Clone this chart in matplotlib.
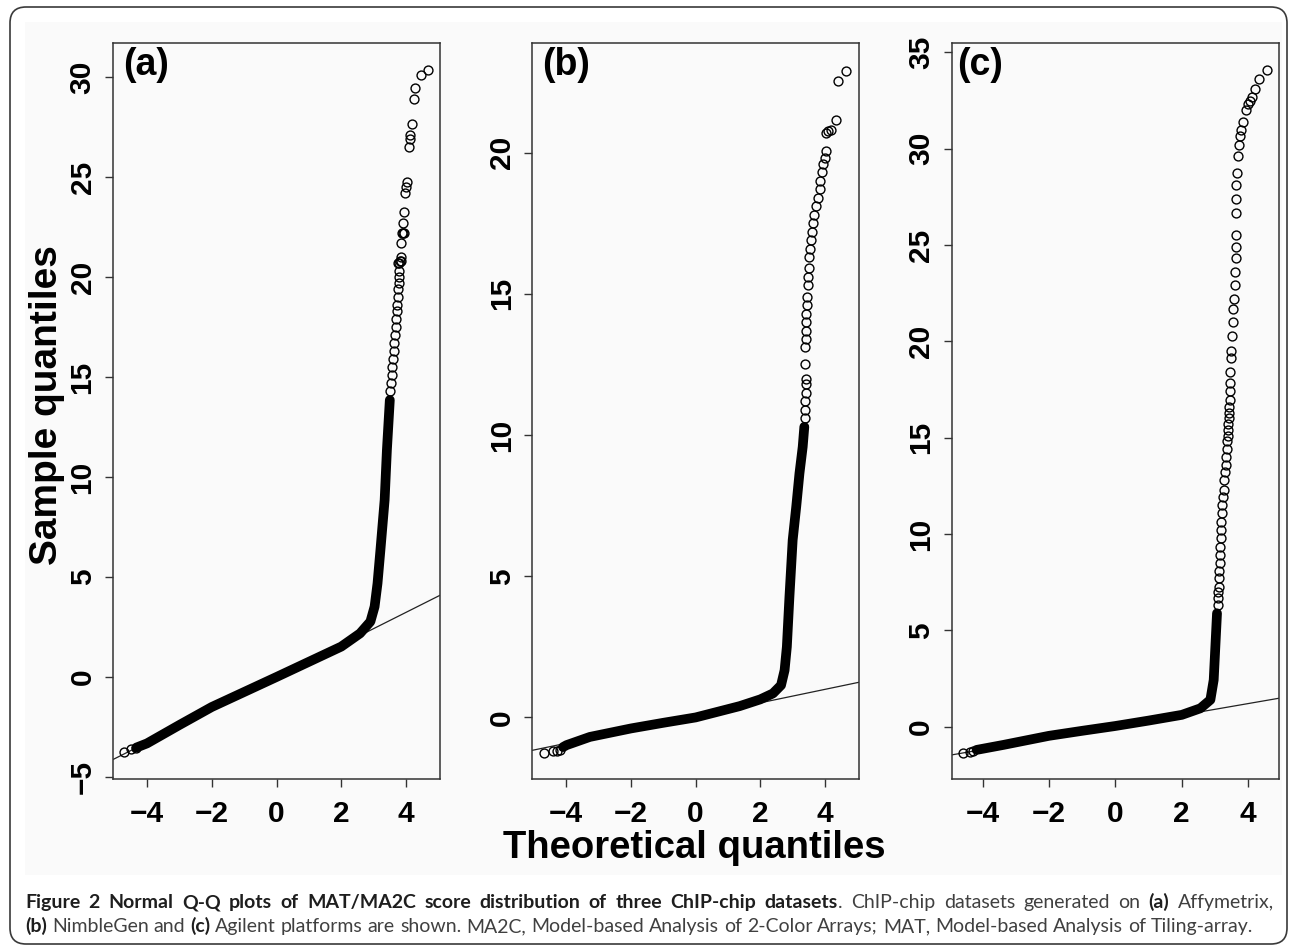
import numpy as np
import matplotlib
matplotlib.use('Agg')
import matplotlib.pyplot as plt
from matplotlib.patches import FancyBboxPatch, Rectangle
from matplotlib.transforms import IdentityTransform

W, H = 1290, 947

# ---- data (theoretical quantile, sample quantile) ----
# (a) Affymetrix
a_low_x = [-4.71, -4.48, -4.33]
a_low_y = [-3.73, -3.62, -3.53]
a_body_x = [-4.33, -4.0, -3.0, -2.0, -1.0, 0.0, 1.0, 2.0, 2.58, 2.9, 3.03, 3.12, 3.21, 3.34, 3.41, 3.5]
a_body_y = [-3.53, -3.32, -2.4, -1.5, -0.75, 0.0, 0.76, 1.52, 2.18, 2.77, 3.52, 4.68, 6.35, 8.85, 11.35, 13.85]
a_tail_x = [3.52, 3.54, 3.56, 3.58, 3.6, 3.62, 3.64, 3.66, 3.68, 3.70, 3.71, 3.72, 3.74, 3.76, 3.77,
            3.78, 3.79, 3.75, 3.78, 3.81, 3.84, 3.86, 3.85, 3.88, 3.91, 3.94, 3.92, 3.95, 3.98, 4.0,
            4.02, 4.09, 4.11, 4.13, 4.19, 4.26, 4.29, 4.47, 4.67]
a_tail_y = [14.3, 14.7, 15.1, 15.5, 15.9, 16.3, 16.7, 17.1, 17.5, 17.9, 18.3, 18.6, 19.0, 19.4, 19.7,
            20.0, 20.3, 20.7, 20.7, 20.8, 20.8, 21.0, 21.7, 22.2, 22.2, 22.2, 22.7, 23.25, 24.2, 24.5,
            24.75, 26.5, 26.9, 27.1, 27.67, 28.9, 29.47, 30.08, 30.37]
a_line = (-0.02, 0.813)  # intercept, slope of the reference line

# (b) NimbleGen
b_low_x = [-4.69, -4.4, -4.3, -4.2]
b_low_y = [-1.25, -1.2, -1.2, -1.15]
b_body_x = [-4.1, -3.99, -3.27, -2.0, -1.0, 0.0, 1.36, 2.0, 2.39, 2.64, 2.75, 2.82, 2.9, 3.0, 3.11, 3.21, 3.31, 3.36]
b_body_y = [-1.05, -0.98, -0.69, -0.39, -0.19, 0.0, 0.40, 0.64, 0.85, 1.14, 1.67, 2.5, 4.27, 6.28, 7.46, 8.64, 9.58, 10.29]
b_tail_x = [3.38, 3.39, 3.39, 3.40, 3.40, 3.40, 3.39, 3.39, 3.40, 3.40, 3.41, 3.42, 3.44, 3.45, 3.46,
            3.48, 3.50, 3.52, 3.54, 3.57, 3.60, 3.63, 3.67, 3.73, 3.78, 3.83, 3.86, 3.90, 3.95, 3.99,
            4.02, 4.04, 4.08, 4.18, 4.33, 4.41, 4.66]
b_tail_y = [10.6, 10.9, 11.2, 11.5, 11.8, 12.0, 12.5, 13.1, 13.4, 13.7, 14.0, 14.3, 14.6, 14.9, 15.3,
            15.6, 15.9, 16.3, 16.6, 16.9, 17.2, 17.5, 17.8, 18.1, 18.4, 18.7, 19.0, 19.3, 19.6, 19.8,
            20.07, 20.7, 20.75, 20.8, 21.16, 22.55, 22.9]
b_line = (0.04, 0.2386)

# (c) Agilent
c_low_x = [-4.58, -4.38, -4.28]
c_low_y = [-1.35, -1.3, -1.27]
c_body_x = [-4.18, -3.37, -2.0, -1.0, 0.0, 1.0, 2.01, 2.57, 2.87, 2.97, 3.02, 3.07]
c_body_y = [-1.21, -0.95, -0.48, -0.22, 0.03, 0.31, 0.61, 0.95, 1.39, 2.42, 4.15, 5.88]
c_tail_x = [3.09, 3.10, 3.11, 3.12, 3.13, 3.14, 3.15, 3.16, 3.17, 3.18,
            3.19, 3.20, 3.22, 3.23, 3.25, 3.27, 3.29, 3.31, 3.33, 3.35,
            3.36, 3.38, 3.39, 3.40, 3.41, 3.42, 3.43, 3.44, 3.45, 3.46,
            3.47, 3.47, 3.50, 3.50, 3.53, 3.54, 3.56, 3.57, 3.60, 3.60,
            3.63, 3.63, 3.63, 3.63, 3.65, 3.65, 3.68, 3.71, 3.73, 3.76,
            3.80, 3.86, 3.93, 4.00, 4.06, 4.13, 4.23, 4.33, 4.58]
c_tail_y = [6.3, 6.7, 7.0, 7.27, 7.7, 8.1, 8.5, 8.9, 9.34, 9.8,
            10.2, 10.6, 11.07, 11.5, 11.9, 12.3, 12.8, 13.2, 13.6, 14.01,
            14.4, 14.8, 15.1, 15.4, 15.7, 16.0, 16.3, 16.6, 16.95, 17.4,
            17.82, 18.4, 19.15, 19.5, 20.27, 21.0, 21.66, 22.18, 22.9, 23.6,
            24.3, 24.9, 25.54, 26.67, 27.4, 28.13, 28.74, 29.6, 30.2, 30.64,
            30.98, 31.4, 32.0, 32.33, 32.45, 32.7, 33.1, 33.6, 34.09]
c_line = (0.0, 0.298)

panel_labels = ['(a)', '(b)', '(c)']
x_ticks = [-4, -2, 0, 2, 4]
y_ticks = [[-5, 0, 5, 10, 15, 20, 25, 30], [0, 5, 10, 15, 20], [0, 5, 10, 15, 20, 25, 30, 35]]
x_lims = [(-5.05, 5.05), (-5.05, 5.06), (-4.93, 4.93)]
y_lims = [(-5.1, 31.7), (-2.18, 23.88), (-2.72, 35.48)]

caption_l1 = [("Figure 2 Normal Q-Q plots of MAT/MA2C score distribution of three ChIP-chip datasets", True, False),
              (". ChIP-chip datasets generated on", False, False),
              ("(a)", True, True),
              ("Affymetrix,", False, True)]
caption_l2 = [("(b)", True, False),
              ("NimbleGen and", False, True),
              ("(c)", True, True),
              ("Agilent platforms are shown. MA2C, Model-based Analysis of 2-Color Arrays; "
               "MAT, Model-based Analysis of Tiling-array.", False, True)]

plt.rcParams['font.family'] = ['Liberation Sans', 'DejaVu Sans']
plt.rcParams['axes.unicode_minus'] = True

fig = plt.figure(figsize=(W / 100, H / 100), dpi=100, facecolor='white')

# frame and the light grey picture area
fig.patches.append(Rectangle((25, H - 875), 1257, 853, transform=IdentityTransform(),
                             facecolor='#fafafa', edgecolor='none', zorder=-2))
fig.patches.append(FancyBboxPatch((10, H - 944), 1277, 937, boxstyle='round,pad=0,rounding_size=16',
                                  transform=IdentityTransform(), facecolor='none',
                                  edgecolor='#3a3a3a', linewidth=1.2, zorder=-1))

panels = [
    (a_low_x, a_low_y, a_body_x, a_body_y, a_tail_x, a_tail_y, a_line),
    (b_low_x, b_low_y, b_body_x, b_body_y, b_tail_x, b_tail_y, b_line),
    (c_low_x, c_low_y, c_body_x, c_body_y, c_tail_x, c_tail_y, c_line),
]
lefts = [113, 532.3, 951.7]
label_dx = [10, 10, 5]
for i, (lx, ly, bx, by, tx, ty, ln) in enumerate(panels):
    ax = fig.add_axes([lefts[i] / W, 1 - 779 / H, 327 / W, 736 / H])
    ax.set_facecolor('none')
    ax.axline((0, ln[0]), slope=ln[1], color='#222222', lw=0.9, zorder=2)
    ax.plot(bx, by, color='black', lw=7.0, solid_capstyle='round', solid_joinstyle='round', zorder=3)
    ax.plot(lx + tx, ly + ty, linestyle='none', marker='o', ms=6.4, mfc='none', mec='black', mew=1.0, zorder=4)
    ax.set_xlim(*x_lims[i])
    ax.set_ylim(*y_lims[i])
    ax.set_xticks(x_ticks)
    ax.set_yticks(y_ticks[i])
    for s in ax.spines.values():
        s.set_color('#333333')
        s.set_linewidth(1.1)
    ax.tick_params(axis='both', direction='out', length=5.8, width=1.0, color='#333333', labelsize=21.5)
    ax.tick_params(axis='x', pad=9)
    ax.tick_params(axis='y', pad=6, labelrotation=90)
    for lab in ax.get_xticklabels() + ax.get_yticklabels():
        lab.set_fontweight('bold')
    for lab in ax.get_yticklabels():
        lab.set_va('center')
    ax.text(label_dx[i] / 327, 1 - 4 / 736, panel_labels[i], transform=ax.transAxes,
            ha='left', va='top', fontsize=27, fontweight='bold')

fig.text(47 / W, 1 - 405 / H, 'Sample quantiles', rotation=90, ha='center', va='center',
         fontsize=28, fontweight='bold')
fig.text(694 / W, 1 - 858 / H, 'Theoretical quantiles', ha='center', va='baseline',
         fontsize=27.5, fontweight='bold')

# caption with mixed bold / regular pieces, first line justified
CAP_FONT = ['Lato', 'Open Sans', 'DejaVu Sans']
renderer = fig.canvas.get_renderer()


def text_w(s, bold, size):
    t = fig.text(0, 0, s, fontsize=size, fontweight='bold' if bold else 'normal', family=CAP_FONT)
    w = t.get_window_extent(renderer).width
    t.remove()
    return w


def words(parts):
    out = []
    for txt, bold, sp in parts:
        for j, wd in enumerate(txt.split(' ')):
            out.append((wd, bold, sp or j > 0))
    return out


def natural(parts, size):
    sp_w = text_w('a a', False, size) - text_w('aa', False, size)
    ws = words(parts)
    return sum(text_w(w, b, size) for w, b, _ in ws) + sp_w * sum(1 for _, _, s in ws if s)


base = 12.0
cap_size = min(base * 1249 / natural(caption_l1, base), base * 1220 / natural(caption_l2, base))


def draw_line(parts, y_px, target=None):
    ws = words(parts)
    sp_w = text_w('a a', False, cap_size) - text_w('aa', False, cap_size)
    n_sp = sum(1 for _, _, s in ws if s)
    if target is not None:
        sp_w += (target - natural(parts, cap_size)) / n_sp
    x = 25.0
    for wd, bold, sp in ws:
        if sp:
            x += sp_w
        t = fig.text(x / W, 1 - y_px / H, wd, fontsize=cap_size, family=CAP_FONT,
                     fontweight='bold' if bold else 'normal',
                     color='#1e1e1e' if bold else '#404040', ha='left', va='baseline')
        x += t.get_window_extent(renderer).width


draw_line(caption_l1, 908, target=1249)
draw_line(caption_l2, 932)

fig.savefig('out.png', dpi=100, facecolor='white')
